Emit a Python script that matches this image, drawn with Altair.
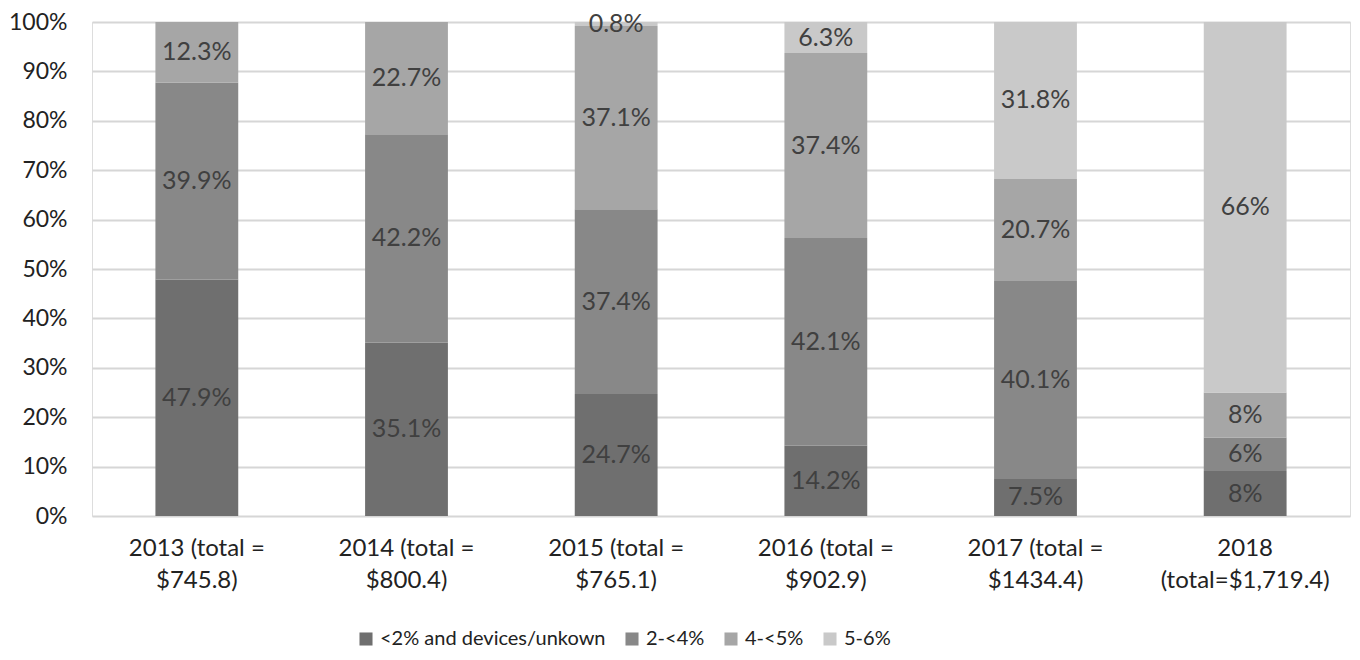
import altair as alt
import pandas as pd

years = ["2013 (total =\n$745.8)", "2014 (total =\n$800.4)", "2015 (total =\n$765.1)",
         "2016 (total =\n$902.9)", "2017 (total =\n$1434.4)", "2018\n(total=$1,719.4)"]
series = ["<2% and devices/unkown", "2-<4%", "4-<5%", "5-6%"]
colors = ["#6f6f6f", "#888888", "#a6a6a6", "#c9c9c9"]

s_lt2 = [47.9, 35.1, 24.7, 14.2, 7.5, 8]
s_2_4 = [39.9, 42.2, 37.4, 42.1, 40.1, 6]
s_4_5 = [12.3, 22.7, 37.1, 37.4, 20.7, 8]
s_5_6 = [0, 0, 0.8, 6.3, 31.8, 66]

rows = []
for si, (name, vals) in enumerate(zip(series, [s_lt2, s_2_4, s_4_5, s_5_6])):
    for yi, v in enumerate(vals):
        if v > 0:
            rows.append({"year": years[yi], "series": name, "order": si, "value": v})
df = pd.DataFrame(rows)

FONT = "Lato"

base = alt.Chart(df).transform_stack(
    stack="value", groupby=["year"], as_=["y0", "y1"], offset="normalize",
    sort=[alt.SortField("order", order="ascending")]
).transform_calculate(
    mid="(datum.y0 + datum.y1) / 2", lbl="datum.value + '%'"
)

xenc = alt.X("year:N", sort=years, title=None,
             scale=alt.Scale(paddingInner=0.605, paddingOuter=0.3025),
             axis=alt.Axis(labelAngle=0, labelFont=FONT, labelFontSize=24, labelColor="#222222",
                           labelPadding=20, labelLineHeight=32, ticks=False, domain=False,
                           labelExpr="split(datum.label, '\\n')", labelLimit=400))

bars = base.mark_bar().encode(
    x=xenc,
    y=alt.Y("y0:Q", scale=alt.Scale(domain=[0, 1]), title=None,
            axis=alt.Axis(format=".0%", values=[i / 10 for i in range(11)], labelFont=FONT,
                          labelFontSize=23, labelColor="#222222", labelPadding=25, ticks=False,
                          domain=False, gridColor="#d6d6d6", gridWidth=2)),
    y2="y1:Q",
    color=alt.Color("series:N", scale=alt.Scale(domain=series, range=colors), title=None,
                    legend=alt.Legend(orient="none", legendX=264, legendY=607, direction="horizontal",
                                      labelFont=FONT, labelFontSize=20, labelColor="#222222",
                                      symbolType="square", symbolSize=170, symbolStrokeWidth=0,
                                      columnPadding=16, labelLimit=400, labelOffset=4)),
)

labels = base.mark_text(font=FONT, fontSize=25, color="#404040", baseline="middle").encode(
    x=alt.X("year:N", sort=years),
    y=alt.Y("mid:Q"),
    text="lbl:N",
)

chart = (bars + labels).properties(
    width=1258, height=494,
    autosize=alt.AutoSizeParams(type="none"),
    padding={"left": 92, "top": 22, "right": 10, "bottom": 144},
).configure_view(stroke=None).configure(background="white")

chart.save("out.html", embed_options={"renderer": "svg", "actions": False})
